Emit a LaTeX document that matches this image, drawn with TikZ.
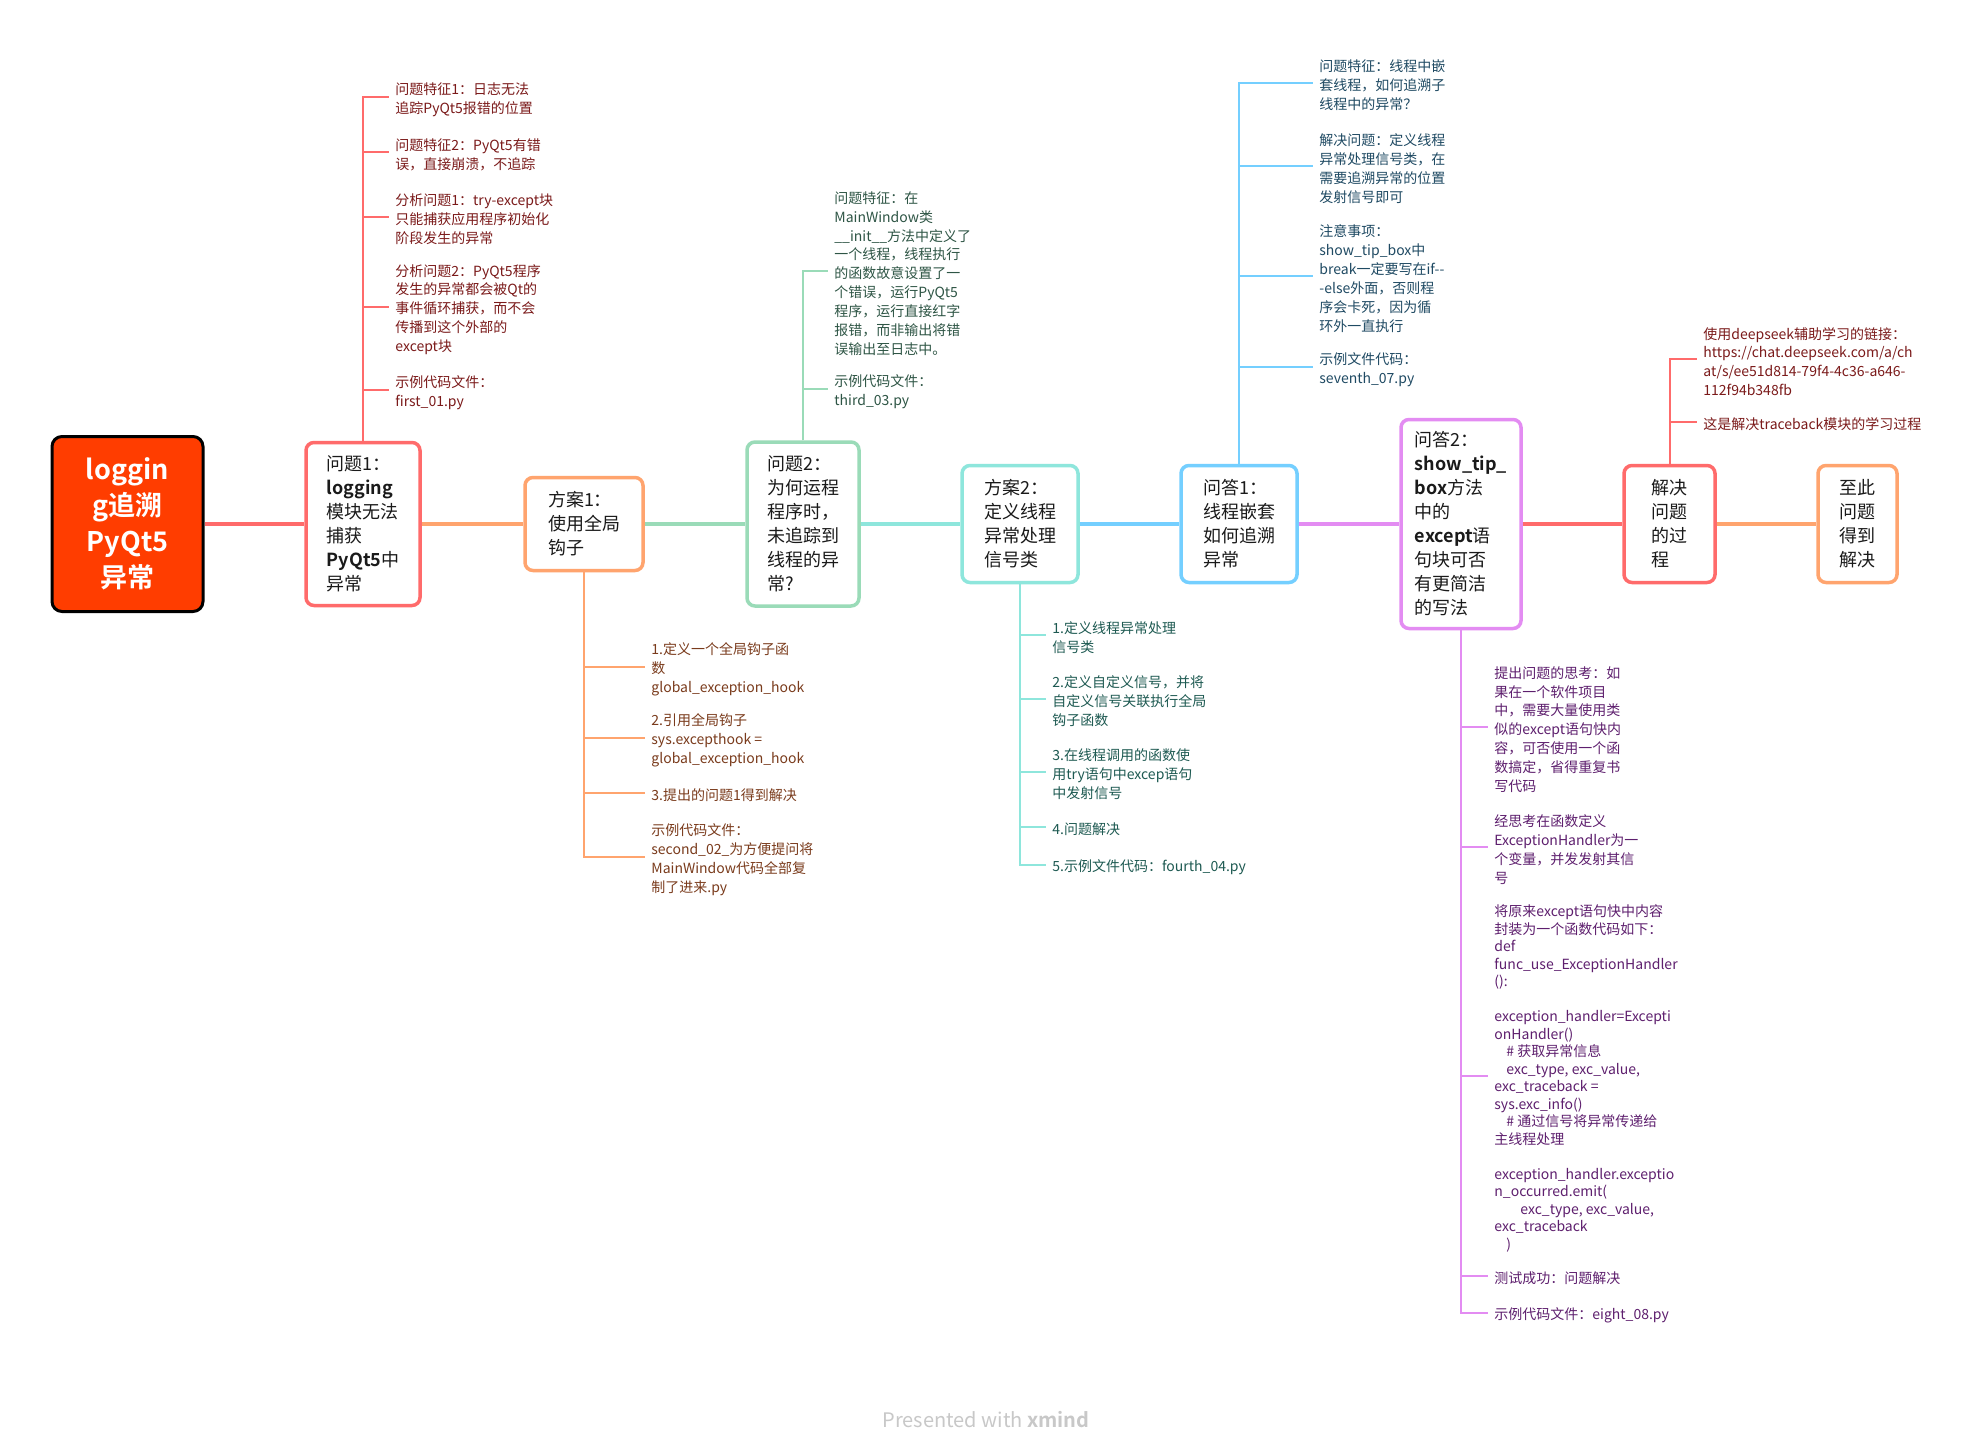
\documentclass[tikz,border=0pt]{standalone}
\usepackage{fontspec}
\setmainfont{Noto Sans CJK SC}[BoldFont={Noto Sans CJK SC Bold}]
\definecolor{croot}{HTML}{FF3D00}
\definecolor{cred}{HTML}{FF6B6B}
\definecolor{corange}{HTML}{FFA46E}
\definecolor{cgreen}{HTML}{9ADBB8}
\definecolor{cteal}{HTML}{8EE6DC}
\definecolor{cblue}{HTML}{74CFFF}
\definecolor{cviolet}{HTML}{E38CF2}
\definecolor{tred}{HTML}{7B1A1A}
\definecolor{torange}{HTML}{7A3B1C}
\definecolor{tgreen}{HTML}{2E5545}
\definecolor{tteal}{HTML}{1E5A52}
\definecolor{tblue}{HTML}{1F4A63}
\definecolor{tviolet}{HTML}{5E1F6E}
\definecolor{tmain}{HTML}{1A1A1A}
\definecolor{cfoot}{HTML}{C8C8C8}
\tikzset{
  mainbox/.style={draw, line width=1.75pt, rounded corners=4pt, fill=white, align=left,
    font=\fontsize{9}{12}\selectfont, text=tmain, inner sep=0pt},
  leaf/.style={anchor=west, align=left, inner xsep=3pt, inner ysep=1pt, yshift=-1.25pt,
    font=\fontsize{7}{9.45}\selectfont},
  trunk/.style={line width=1pt},
  link/.style={line width=2pt},
}
\begin{document}
\begin{tikzpicture}[x=0.5pt,y=-0.5pt]
\useasboundingbox[fill=white] (0,0) rectangle (1974,1449);

% main nodes
\node[draw=black, line width=1.5pt, fill=croot, rounded corners=5pt, minimum width=75.5pt,
  minimum height=87.5pt, text=white, align=center, inner sep=0pt,
  font=\fontsize{13.5}{18}\selectfont\bfseries] (root) at (127.5,524) {loggin\\g追溯\\PyQt5\\异常};
\node[mainbox, draw=cred, minimum width=57pt, minimum height=81.5pt] (q1) at (363,524)
  {问题1：\\\textbf{logging}\\模块无法\\捕获\\\textbf{PyQt5}中\\异常};
\node[mainbox, draw=corange, minimum width=59pt, minimum height=46.5pt] (s1) at (584,524)
  {方案1：\\使用全局\\钩子};
\node[mainbox, draw=cgreen, minimum width=56pt, minimum height=82pt] (q2) at (803,524)
  {问题2：\\为何运程\\程序时，\\未追踪到\\线程的异\\常?};
\node[mainbox, draw=cteal, minimum width=58pt, minimum height=58.5pt] (s2) at (1020,524)
  {方案2：\\定义线程\\异常处理\\信号类};
\node[mainbox, draw=cblue, minimum width=58pt, minimum height=58.5pt] (a1) at (1239,524)
  {问答1：\\线程嵌套\\如何追溯\\异常};
\node[mainbox, draw=cviolet, minimum width=60pt, minimum height=104.5pt] (a2) at (1461,524)
  {问答2：\\\textbf{show\_tip\_}\\\textbf{box}方法\\中的\\\textbf{except}语\\句块可否\\有更简洁\\的写法};
\node[mainbox, draw=cred, minimum width=45.5pt, minimum height=58.5pt] (pr) at (1669.5,524)
  {解决\\问题\\的过\\程};
\node[mainbox, draw=corange, minimum width=39.5pt, minimum height=58.5pt] (fin) at (1857.5,524)
  {至此\\问题\\得到\\解决};

% main links
\draw[link, cred] (root.east) -- (q1.west);
\draw[link, corange] (q1.east) -- (s1.west);
\draw[link, cgreen] (s1.east) -- (q2.west);
\draw[link, cteal] (q2.east) -- (s2.west);
\draw[link, cblue] (s2.east) -- (a1.west);
\draw[link, cviolet] (a1.east) -- (a2.west);
\draw[link, cred] (a2.east) -- (pr.west);
\draw[link, corange] (pr.east) -- (fin.west);

% leaves of q1
\begin{scope}[every node/.style={leaf, text=tred}]
\node (q1a) at (389,97) {问题特征1：日志无法\\追踪PyQt5报错的位置};
\node (q1b) at (389,152) {问题特征2：PyQt5有错\\误，直接崩溃，不追踪};
\node (q1c) at (389,217) {分析问题1：try-except块\\只能捕获应用程序初始化\\阶段发生的异常};
\node (q1d) at (389,307) {分析问题2：PyQt5程序\\发生的异常都会被Qt的\\事件循环捕获，而不会\\传播到这个外部的\\except块};
\node (q1e) at (389,390) {示例代码文件：\\first\_01.py};
\end{scope}
\foreach \n in {q1a,q1b,q1c,q1d,q1e} \draw[trunk, cred] (q1.north) |- ([yshift=1.25pt]\n.west);

% leaves of s1
\begin{scope}[every node/.style={leaf, text=torange}]
\node (s1a) at (645,667) {1.定义一个全局钩子函\\数\\global\_exception\_hook};
\node (s1b) at (645,738) {2.引用全局钩子\\sys.excepthook =\\global\_exception\_hook};
\node (s1c) at (645,793) {3.提出的问题1得到解决};
\node (s1d) at (645,857) {示例代码文件：\\second\_02\_为方便提问将\\MainWindow代码全部复\\制了进来.py};
\end{scope}
\foreach \n in {s1a,s1b,s1c,s1d} \draw[trunk, corange] (s1.south) |- ([yshift=1.25pt]\n.west);

% leaves of q2
\begin{scope}[every node/.style={leaf, text=tgreen}]
\node (q2a) at (828,271) {问题特征：在\\MainWindow类\\\_\_init\_\_方法中定义了\\一个线程，线程执行\\的函数故意设置了一\\个错误，运行PyQt5\\程序，运行直接红字\\报错，而非输出将错\\误输出至日志中。};
\node (q2b) at (828,389) {示例代码文件：\\third\_03.py};
\end{scope}
\foreach \n in {q2a,q2b} \draw[trunk, cgreen] (q2.north) |- ([yshift=1.25pt]\n.west);

% leaves of s2
\begin{scope}[every node/.style={leaf, text=tteal}]
\node (s2a) at (1046,635) {1.定义线程异常处理\\信号类};
\node (s2b) at (1046,699) {2.定义自定义信号，并将\\自定义信号关联执行全局\\钩子函数};
\node (s2c) at (1046,772) {3.在线程调用的函数使\\用try语句中excep语句\\中发射信号};
\node (s2d) at (1046,827) {4.问题解决};
\node (s2e) at (1046,865) {5.示例文件代码：fourth\_04.py};
\end{scope}
\foreach \n in {s2a,s2b,s2c,s2d,s2e} \draw[trunk, cteal] (s2.south) |- ([yshift=1.25pt]\n.west);

% leaves of a1
\begin{scope}[every node/.style={leaf, text=tblue}]
\node (a1a) at (1313,83) {问题特征：线程中嵌\\套线程，如何追溯子\\线程中的异常？};
\node (a1b) at (1313,166) {解决问题：定义线程\\异常处理信号类，在\\需要追溯异常的位置\\发射信号即可};
\node (a1c) at (1313,276) {注意事项：\\show\_tip\_box中\\break一定要写在if-{}-\\-else外面，否则程\\序会卡死，因为循\\环外一直执行};
\node (a1d) at (1313,367) {示例文件代码：\\seventh\_07.py};
\end{scope}
\foreach \n in {a1a,a1b,a1c,a1d} \draw[trunk, cblue] (a1.north) |- ([yshift=1.25pt]\n.west);

% leaves of a2
\begin{scope}[every node/.style={leaf, text=tviolet}]
\node (a2a) at (1488,727) {提出问题的思考：如\\果在一个软件项目\\中，需要大量使用类\\似的except语句快内\\容，可否使用一个函\\数搞定，省得重复书\\写代码};
\node (a2b) at (1488,847) {经思考在函数定义\\ExceptionHandler为一\\个变量，并发发射其信\\号};
\node[font=\fontsize{7}{8.75}\selectfont] (a2c) at (1488,1076) {将原来except语句快中内容\\封装为一个函数代码如下：\\def\\func\_use\_ExceptionHandler\\():\\\mbox{}\\exception\_handler=Excepti\\onHandler()\\\hspace*{6pt}\# 获取异常信息\\\hspace*{6pt}exc\_type, exc\_value,\\exc\_traceback =\\sys.exc\_info()\\\hspace*{6pt}\# 通过信号将异常传递给\\主线程处理\\\mbox{}\\exception\_handler.exceptio\\n\_occurred.emit(\\\hspace*{13pt}exc\_type, exc\_value,\\exc\_traceback\\\hspace*{6pt})};
\node (a2d) at (1488,1276) {测试成功：问题解决};
\node (a2e) at (1488,1313) {示例代码文件：eight\_08.py};
\end{scope}
\foreach \n in {a2a,a2b,a2c,a2d,a2e} \draw[trunk, cviolet] (a2.south) |- ([yshift=1.25pt]\n.west);

% leaves of pr
\begin{scope}[every node/.style={leaf, text=tred}]
\node (pra) at (1697,359) {使用deepseek辅助学习的链接：\\https://chat.deepseek.com/a/ch\\at/s/ee51d814-79f4-4c36-a646-\\112f94b348fb};
\node (prb) at (1697,422) {这是解决traceback模块的学习过程};
\end{scope}
\foreach \n in {pra,prb} \draw[trunk, cred] (pr.north) |- ([yshift=1.25pt]\n.west);

% footer
\node[text=cfoot, font=\fontsize{10}{12}\selectfont] (foot) at (986,1420) {Presented with \textbf{xmind}};
\end{tikzpicture}
\end{document}
